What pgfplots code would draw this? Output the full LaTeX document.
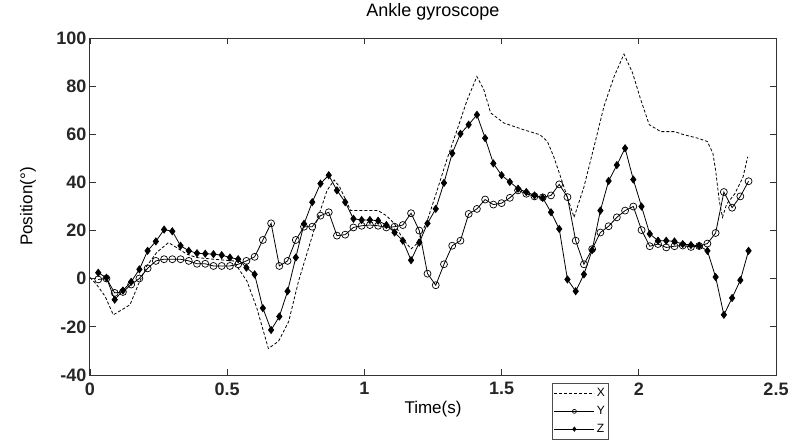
\documentclass[border=0pt]{standalone}
\usepackage{fontspec}
\setmainfont{Liberation Sans}
\usepackage{pgfplots}
\usepackage{pgfplotstable}
\pgfplotsset{compat=1.18}

\pgfplotstableread{
x y
0.000 0.5
0.024 -2.4
0.055 -7.3
0.085 -15
0.116 -12.9
0.146 -10.8
0.176 -2.4
0.207 5.3
0.243 10.9
0.286 15
0.316 12.9
0.353 10.2
0.389 8.8
0.450 8.1
0.523 7.4
0.547 3.2
0.572 -1
0.608 -12.2
0.650 -29
0.687 -26
0.724 -17.8
0.760 -1
0.797 12.9
0.827 24.1
0.864 36.7
0.890 41
0.910 38.1
0.950 28.3
1.050 28.3
1.080 26.2
1.110 22.8
1.140 16.5
1.170 12.4
1.190 14.4
1.229 24.1
1.265 36.7
1.300 49.3
1.338 61.9
1.375 74.4
1.410 84
1.435 78.6
1.460 68.9
1.508 64.7
1.580 61.9
1.640 59.8
1.667 57
1.690 50.7
1.715 42.3
1.764 25.5
1.800 38.1
1.837 54.9
1.873 71.6
1.910 84
1.946 93.3
1.977 85.6
2.007 74.4
2.038 64
2.080 61.1
2.130 61.1
2.165 59.8
2.214 58.4
2.250 57
2.270 52.1
2.280 45
2.293 32.5
2.305 25.5
2.320 31
2.350 35.3
2.380 42.3
2.397 50.7
}\dataX

\pgfplotstableread{
x y
0.03 -0.3
0.06 0.1
0.09 -5.9
0.12 -5.5
0.15 -2.4
0.18 0.1
0.21 4.3
0.24 7.4
0.27 8.1
0.30 8.1
0.33 8.1
0.36 7.4
0.39 6.2
0.42 6.2
0.45 5.3
0.48 5.3
0.51 5.3
0.54 6.0
0.57 7.4
0.60 9.1
0.63 16.1
0.66 23.0
0.69 5.3
0.72 7.4
0.75 16.1
0.78 21.6
0.81 21.6
0.84 26.2
0.87 27.6
0.90 17.9
0.93 18.3
0.96 21.3
0.99 22
1.02 22.3
1.05 22
1.08 21.3
1.11 21.6
1.14 22.3
1.17 27.2
1.20 20
1.23 2.1
1.26 -2.7
1.29 6.0
1.32 13.7
1.35 15.8
1.38 26.9
1.41 29.0
1.44 32.9
1.47 30.8
1.50 31.4
1.53 33.6
1.56 36.7
1.59 35.3
1.62 34.2
1.65 33.8
1.68 34.6
1.71 39.2
1.74 33.9
1.77 15.8
1.80 6.0
1.83 12.3
1.86 19.2
1.89 21.8
1.92 25.5
1.95 28.3
1.98 30
2.01 20.2
2.04 13.5
2.07 14.4
2.10 13
2.13 13.5
2.16 13.8
2.19 13.2
2.22 13.6
2.25 14.6
2.28 19
2.31 36
2.34 29.5
2.37 34.2
2.40 40.5
}\dataY

\pgfplotstableread{
x y
0.03 2.5
0.06 0.4
0.09 -8.7
0.12 -4.9
0.15 -1.3
0.18 3.9
0.21 11.6
0.24 15.5
0.27 20.4
0.30 19.7
0.33 13.7
0.36 11.6
0.39 10.6
0.42 10.4
0.45 10.2
0.48 9.8
0.51 8.8
0.54 8.1
0.57 4.6
0.60 1.8
0.63 -12.2
0.66 -21.3
0.69 -15.7
0.72 -5.2
0.75 8.8
0.78 22.8
0.81 31.8
0.84 39.5
0.87 43
0.90 36.7
0.93 31.8
0.96 24.9
0.99 24.4
1.02 24.4
1.05 24.1
1.08 22.3
1.11 19.2
1.14 15.8
1.17 7.7
1.20 15.0
1.23 23.0
1.26 29.0
1.29 39.8
1.32 52.1
1.35 60.2
1.38 64
1.41 68.1
1.44 58.4
1.47 47.9
1.50 43
1.53 40.2
1.56 37.4
1.59 36
1.62 34.6
1.65 33.6
1.68 27.6
1.71 20.7
1.74 -0.3
1.77 -5.2
1.80 1.8
1.83 11.9
1.86 28.3
1.89 40.6
1.92 47.2
1.95 54.2
1.98 41.2
2.01 30
2.04 18.6
2.07 15.8
2.10 15.8
2.13 15.5
2.16 14.4
2.19 14
2.22 13.7
2.25 11.6
2.28 0.7
2.31 -15
2.34 -8
2.37 -0.6
2.40 11.6
}\dataZ

\begin{document}
\begin{tikzpicture}
\begin{axis}[
  name=ax,
  scale only axis,
  width=686pt, height=337pt,
  xmin=0, xmax=2.5, ymin=-40, ymax=100,
  xtick={0,0.5,1,1.5,2,2.5},
  ytick={-40,-20,0,20,40,60,80,100},
  xticklabels={0,0.5,1,1.5,2,2.5},
  tick align=inside, xtick pos=both, ytick pos=both,
  major tick length=6pt,
  axis line style={line width=1pt, color=black!80},
  tick style={line width=0.8pt, color=black!80},
  tick label style={font=\fontsize{18}{20}\selectfont\bfseries, color=black!85},
  xticklabel style={yshift=-4pt},
  /pgf/number format/assume math mode=true,
  title={Ankle gyroscope},
  title style={font=\fontsize{18}{20}\selectfont, at={(axis description cs:0.5,1.06)}, anchor=center},
  xlabel={Time(s)},
  ylabel={Position(°)},
  xlabel style={font=\fontsize{17}{20}\selectfont, at={(axis description cs:0.5,-0.102)}, anchor=center},
  ylabel style={font=\fontsize{17}{20}\selectfont, at={(axis description cs:-0.0904,0.5)}, anchor=center},
  legend style={at={(axis description cs:0.673,-0.025)}, anchor=north west,
    font=\fontsize{12}{14}\selectfont, draw=black!70, line width=0.6pt,
    inner xsep=2pt, inner ysep=3pt, row sep=4pt},
  legend cell align=left,
  legend image code/.code={\draw[mark repeat=2,mark phase=2,#1] plot coordinates {(0pt,0pt) (20pt,0pt) (40pt,0pt)};},
  legend image post style={mark size=2pt},
]
\addplot[black, line width=0.8pt, dash pattern=on 3pt off 2pt] table {\dataX};
\addlegendentry{X}
\addplot[black, line width=0.8pt, mark=o, mark size=3.5pt, mark options={solid, line width=0.7pt}] table {\dataY};
\addlegendentry{Y}
\addplot[black, line width=0.8pt, mark=diamond*, mark size=3.5pt, mark options={solid}] table {\dataZ};
\addlegendentry{Z}
\end{axis}
\pgfresetboundingbox
\path ([xshift=-90pt,yshift=-70pt]ax.south west) rectangle ([xshift=26pt,yshift=38pt]ax.north east);
\end{tikzpicture}
\end{document}
